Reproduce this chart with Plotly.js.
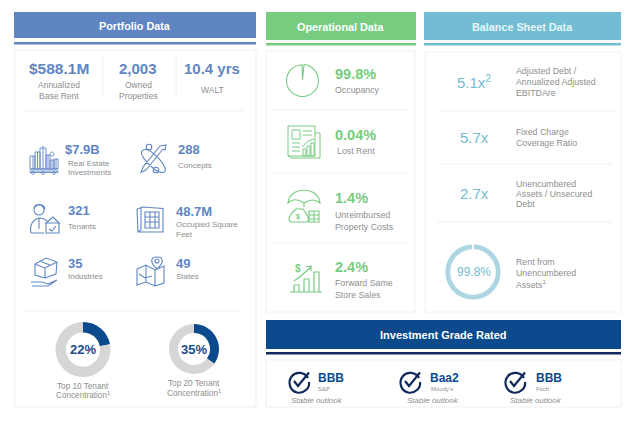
<!DOCTYPE html>
<html><head><meta charset="utf-8">
<script src="https://cdn.plot.ly/plotly-3.0.1.min.js"></script>
<style>html,body{margin:0;padding:0;background:#fff}#c{width:640px;height:427px}</style>
</head><body><div id="c"></div>
<script>
// ---- Data ----
const panelTitles = ["Portfolio Data","Operational Data","Balance Sheet Data","Investment Grade Rated"];
const headlineValues = ["$588.1M","2,003","10.4 yrs"];
const headlineLabels = [["Annualized","Base Rent"],["Owned","Properties"],["WALT"]];
const portfolioValues = ["$7.9B","288","321","48.7M","35","49"];
const portfolioLabels = [["Real Estate","Investments"],["Concepts"],["Tenants"],["Occupied Square","Feet"],["Industries"],["States"]];
const concentrationShare = [22,35];
const concentrationLabels = [["Top 10 Tenant","Concentration<sup>1</sup>"],["Top 20 Tenant","Concentration<sup>1</sup>"]];
const operationalValues = ["99.8%","0.04%","1.4%","2.4%"];
const operationalLabels = [["Occupancy"],["Lost Rent"],["Unreimbursed","Property Costs"],["Forward Same","Store Sales"]];
const balanceValues = ["5.1x<sup>2</sup>","5.7x","2.7x"];
const balanceLabels = [["Adjusted Debt /","Annualized Adjusted","EBITDAre"],["Fixed Charge","Coverage Ratio"],["Unencumbered","Assets / Unsecured","Debt"],["Rent from","Unencumbered","Assets<sup>1</sup>"]];
const unencumberedShare = 99.8;
const ratingGrades = ["BBB","Baa2","BBB"];
const ratingAgencies = ["S&P","Moody's","Fitch"];
const ratingOutlook = "Stable outlook";

// ---- Style ----
const BLUE="#5f86c3",GREEN="#76cc7f",TEAL="#72bdd3",NAVY="#0b4a8c",DARK="#10295a",GRAY="#8e8e8e";
const FONT="'Liberation Sans',Arial,sans-serif";
const W=640,H=427;
const shapes=[],ann=[];

function box(x0,y0,x1,y1,fill,line){shapes.push({type:'rect',layer:'below',xref:'x',yref:'y',x0,y0,x1,y1,fillcolor:fill||'rgba(0,0,0,0)',line:{color:line||fill,width:line?1:0}});}
function hr(x0,x1,y,c){shapes.push({type:'line',layer:'below',xref:'x',yref:'y',x0,x1,y0:y,y1:y,line:{color:c||'#efefef',width:1}});}
function vr(x,y0,y1){shapes.push({type:'line',layer:'below',xref:'x',yref:'y',x0:x,x1:x,y0,y1,line:{color:'#f0f0f0',width:1}});}
function txt(s,x,y,size,color,o){o=o||{};ann.push({text:o.bold?'<b>'+s+'</b>':(o.it?'<i>'+s+'</i>':s),x,y,xref:'x',yref:'y',showarrow:false,xanchor:o.a||'left',yanchor:'middle',font:{family:o.f||FONT,size,color},borderpad:0,borderwidth:0,align:o.a||'left'});}
function icon(d,c,w,fill){shapes.push({type:'path',layer:'above',xref:'x',yref:'y',path:d,line:{color:c,width:w||1},fillcolor:fill||'rgba(0,0,0,0)'});}
const R=(x,y,w,h)=>`M${x},${y}L${x+w},${y}L${x+w},${y+h}L${x},${y+h}Z`;
const C=(cx,cy,r)=>{const k=r*.5523;return `M${cx-r},${cy}C${cx-r},${cy-k} ${cx-k},${cy-r} ${cx},${cy-r}C${cx+k},${cy-r} ${cx+r},${cy-k} ${cx+r},${cy}C${cx+r},${cy+k} ${cx+k},${cy+r} ${cx},${cy+r}C${cx-k},${cy+r} ${cx-r},${cy+k} ${cx-r},${cy}Z`;};
const P=(...p)=>'M'+p.map(q=>q.join(',')).join('L');

// ---- Panels ----
box(14,12,256,38,"#5f86c3");box(14,42,256,44.5,"#5f86c3");box(15,50,256,407,"#fff","#efefef");
box(266,12,416,40,GREEN);box(266,43,416,45.5,GREEN);box(266,51,415,312,"#fff","#f0f0f0");
box(424,12,621,40,TEAL);box(424,43,621,45.5,TEAL);box(425,52,621,312,"#fff","#f0f0f0");
box(266,320,621,349,NAVY);box(266,352,621,354.5,DARK);box(266,360,621,407,"#fff","#f0f0f0");
const headCenters=[135,340,522,443],headY=[26,26.5,26.5,335];
panelTitles.forEach((t,i)=>txt(t,headCenters[i],headY[i],i==3?11:10.8,i==2?"#e8f5f9":"#fff",{a:'center',bold:true}));

// ---- Portfolio ----
const hx=[59,138,212];
headlineValues.forEach((v,i)=>{txt(v,hx[i],68.5,i==0?15.5:15,BLUE,{a:'center',bold:true});});
headlineLabels.forEach((l,i)=>{const ys=l.length==2?[85,96]:[90];l.forEach((s,j)=>txt(s,hx[i],ys[j],8.5,GRAY,{a:'center'}));});
vr(103,56,96);vr(176,56,96);hr(24,244,111);
const px=[65,178,68,176,68,176],py=[149,149,210,211,263,263];
const lx=[68,178,68,176,68,176],ly=[163,165,226,224.5,276,276];
portfolioValues.forEach((v,i)=>txt(v,px[i],py[i],13,BLUE,{bold:true}));
portfolioLabels.forEach((l,i)=>l.forEach((s,j)=>txt(s,lx[i],ly[i]+j*9.5,8,GRAY)));
hr(24,241,311);
const dx=[83,194],dy=[349.5,349],dly=[[386,395],[383,393]];
concentrationShare.forEach((v,i)=>txt(v+'%',dx[i],dy[i],13,"#1f4a85",{a:'center',bold:true}));
concentrationLabels.forEach((l,i)=>l.forEach((s,j)=>txt(s,dx[i],dly[i][j],8.2,GRAY,{a:'center'})));

// ---- Operational ----
const oy=[74,135,198,267],oly=[90,151,215,283],olx=[335,337,335,335];
operationalValues.forEach((v,i)=>txt(v,335,oy[i],14.5,GREEN,{bold:true}));
operationalLabels.forEach((l,i)=>l.forEach((s,j)=>txt(s,olx[i],oly[i]+j*11.5,8.8,GRAY)));
hr(272,407,110);hr(272,407,173);hr(272,407,243);

// ---- Balance ----
const by=[81,137,193];
balanceValues.forEach((v,i)=>txt(v,474,by[i],15,TEAL,{a:'center'}));
const bly=[71,132,184,262];
balanceLabels.forEach((l,i)=>l.forEach((s,j)=>txt(s,516,bly[i]+j*(i==2?10:11),8.8,GRAY)));
hr(440,615,111);hr(440,612,164);hr(437,612,222);
txt(unencumberedShare+'%',474,272,12,TEAL,{a:'center'});

// ---- Ratings ----
const gx=[318,430,536],ax=[324,442,542],sx=[317,433,536],cx=[299,410,515];
ratingGrades.forEach((g,i)=>txt(g,gx[i],378,12,NAVY,{bold:true}));
ratingAgencies.forEach((g,i)=>txt(g,ax[i],388.5,6,GRAY,{a:'center'}));
ratingGrades.forEach((g,i)=>txt(ratingOutlook,sx[i],400.5,8,GRAY,{a:'center',it:true}));
cx.forEach(c=>{
  icon(`M${c+9},378C${c+6},372 ${c-3},371 ${c-7},376C${c-12},382 ${c-9},391 ${c-2},392.5C${c+5},394 ${c+11},388 ${c+10},382`,DARK,2.2);
  icon(P([c-5,381],[c-1,386],[c+10,372.5]),DARK,2.2);
});

// ---- Icons: Portfolio ----
const b=BLUE;
icon(R(30,156,5,13)+R(35,152,5,17)+R(40,148,6,21)+R(46,155,4,14)+R(50,160,4,9)+R(54,159,4,10)+P([30,169],[58,169])+P([33,156],[33,169])+P([37.5,152],[37.5,169])+P([43,148],[43,169])+P([48,155],[48,169])+P([52,160],[52,169])+P([56,159],[56,169])+P([43,148],[43,146])+C(52,154,2)+R(30,171,28,1.5)+C(33,173,1.5)+C(43,173,1.5)+C(54,173,1.5),b,.9);
icon(`M143,150C150,147 163,162 165,168C167,174 160,174 153,168C146,162 138,153 143,150Z`+P([163,149],[146,170])+P([146,170],[141,172.5],[143,167],[160,146])+C(149,147,2.8)+C(156,170,2.8)+`M160,146L166,145L165,150L163,149`,b,1.1);
icon(C(39,210,5)+`M34,209C34,203 44,203 45,209`+`M31,233C29,224 34,219 39,218C42,218 45,219 47,221`+P([31,233],[44,233])+P([45,224],[53,217],[60,224])+R(46,223,13,10)+P([49,229],[52,231],[56,226])+P([39,218],[39,229]),b,1.1);
icon(P([137,209],[143,207],[163,208.5],[163,232],[138,232],[137,209])+P([141,208],[141,230],[138,232])+R(145,212,14,16)+P([145,217],[159,217])+P([145,222],[159,222])+P([150,212],[150,228])+P([155,212],[155,228]),b,1.1);
icon(P([35,264],[46,258],[57,262],[56,274],[45,278],[35,275],[35,264])+P([35,264],[45,268],[57,262])+P([45,268],[45,278])+P([40,261],[51,265.5])+P([31,282],[42,282],[48,284],[57,280])+P([32,286],[48,286],[57,280]),b,1.1);
icon(P([137,269],[146,265],[155,270],[164,266],[164,283],[155,286],[146,282],[137,285],[137,269])+P([146,265],[146,282])+P([155,270],[155,286])+P([139,274],[145,278],[152,276])+`M157,269C150,263 150,257 157,257C164,257 164,263 157,269Z`+C(157,261,2),b,1.1);

// ---- Icons: Operational ----
const g=GREEN;
icon(`M302,65C293,65 286.5,72 286.5,81C286.5,89.5 293.5,96.5 302.5,96.5C311,96.5 318.5,89.5 318.5,81C318.5,72 311.5,65 304,64.5L302.5,80Z`,g,1.1);
icon(R(288,126,27,30)+P([315,133],[320,133],[320,158],[292,158],[288,156])+R(292,130,8,9)+P([303,131],[312,131])+P([303,135],[312,135])+P([292,143],[300,143])+P([292,147],[300,147])+P([292,151],[300,151])+R(303,149,3,7)+R(307,146,3,10)+R(311,143,3,13)+P([302,147],[308,141],[314,139]),g,1);
icon(`M288,203C289,186 319,186 320,203C315,199 311,199 304,203C298,199 292,199 288,203Z`+P([304,203],[304,207])+`M296,209C291,213 286,220 291,222L307,222C311,220 306,213 303,209Z`+P([296,209],[303,209])+R(309,211,10,11)+P([309,215],[319,215])+P([309,219],[319,219])+P([314,211],[314,222]),g,1.1);
txt("$",298,217,7,g,{a:'center',bold:true});
icon(P([290,292],[322,292])+R(294,285,5,7)+R(304,279,5,13)+R(314,272,5,20)+P([294,281],[302,275],[311,267])+P([306,267],[311,266],[311,271]),g,1.2);
txt("$",298,268,10,g,{a:'center',bold:true});

// ---- Marks drawn through the library ----
function dom(cx,cy,r){return {x:[(cx-r)/W,(cx+r)/W],y:[1-(cy+r)/H,1-(cy-r)/H]};}
const pieBase={type:'pie',sort:false,direction:'clockwise',rotation:0,textinfo:'none',hoverinfo:'skip',showlegend:false};
const traces=[
 {x:[0,W],y:[0,H],mode:'none',type:'scatter',hoverinfo:'skip',showlegend:false},
 Object.assign({},pieBase,{values:[concentrationShare[0],100-concentrationShare[0]],hole:.62,domain:dom(83,349.5,27.5),marker:{colors:[NAVY,"#d6d6d6"],line:{width:0}}}),
 Object.assign({},pieBase,{values:[concentrationShare[1],100-concentrationShare[1]],hole:.64,domain:dom(194,349,25),marker:{colors:[NAVY,"#d6d6d6"],line:{width:0}}}),
 Object.assign({},pieBase,{values:[unencumberedShare,100-unencumberedShare],hole:.8,domain:dom(473,272,28),marker:{colors:["#aed6e2","#ffffff"],line:{color:'#fff',width:.8}}})
];
Plotly.newPlot('c',traces,{
 width:W,height:H,margin:{l:0,r:0,t:0,b:0,pad:0},paper_bgcolor:'#fff',plot_bgcolor:'#fff',showlegend:false,
 xaxis:{range:[0,W],visible:false,fixedrange:true},yaxis:{range:[H,0],visible:false,fixedrange:true},
 shapes,annotations:ann
},{staticPlot:true,displayModeBar:false});
</script></body></html>
